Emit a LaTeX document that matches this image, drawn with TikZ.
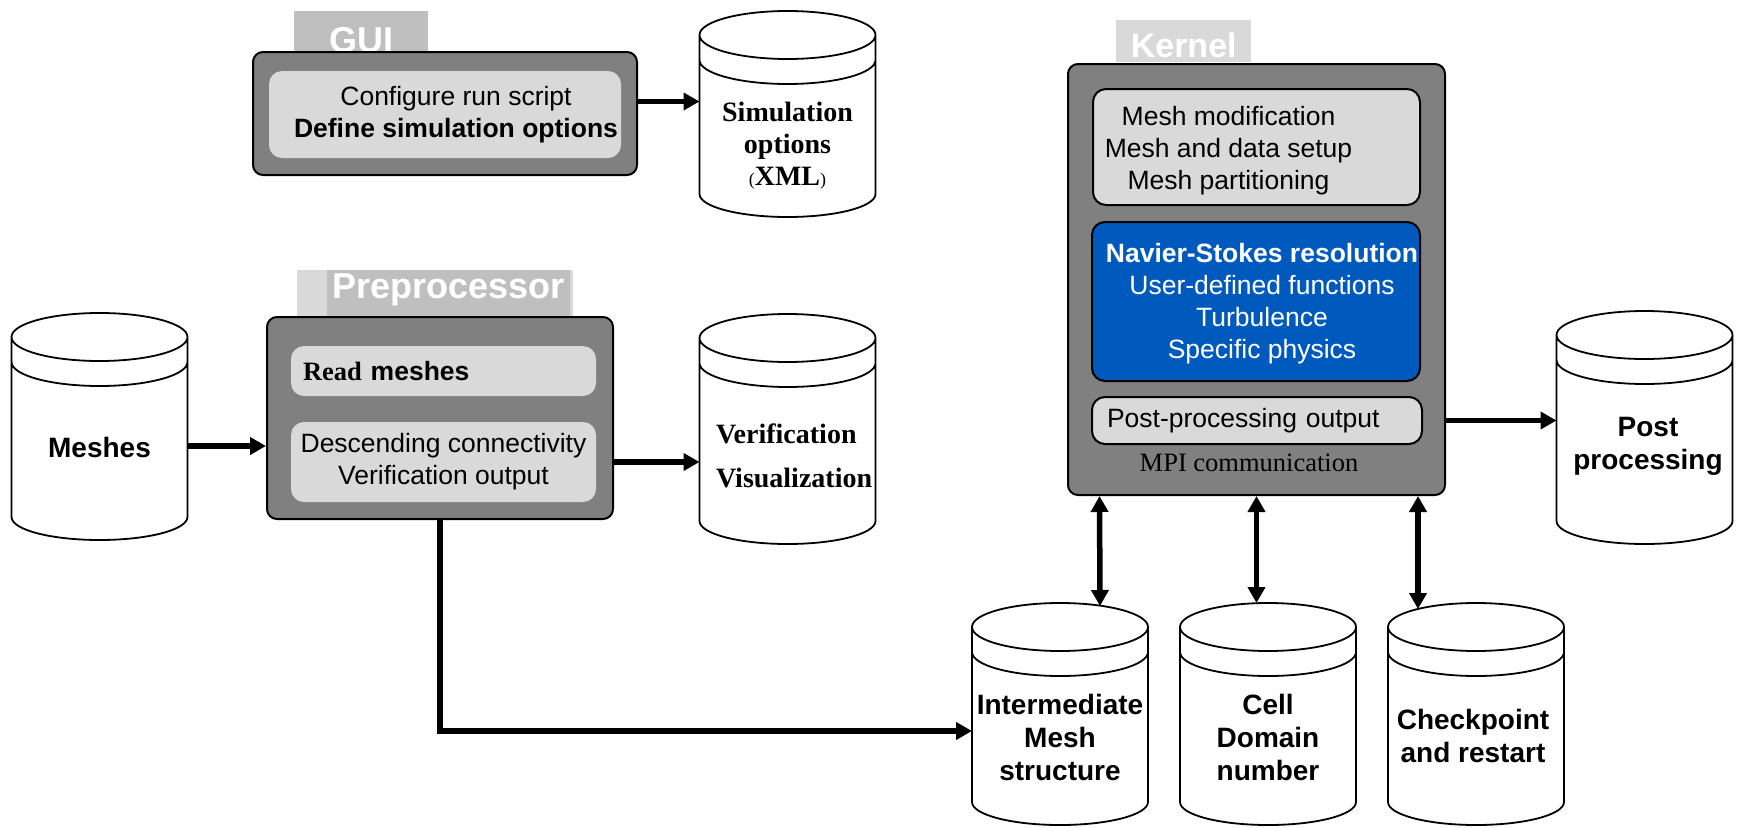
\documentclass[tikz,border=0pt]{standalone}
\usepackage{fontspec}
\setmainfont{Liberation Serif}
\setsansfont{Liberation Sans}
\usepackage{tikz}
\usetikzlibrary{calc,positioning,arrows.meta}

\definecolor{boxgray}{RGB}{128,128,128}
\definecolor{panegray}{RGB}{217,217,217}
\definecolor{tabgray}{RGB}{191,191,191}
\definecolor{nsblue}{RGB}{0,90,190}

\newcommand{\panefont}{\sffamily\fontsize{26.5}{32}\selectfont}
\newcommand{\drumfont}{\sffamily\bfseries\fontsize{28}{33}\selectfont}

\tikzset{
  module/.style={draw=black, line width=2pt, fill=boxgray, rounded corners=10pt, inner sep=0pt},
  pane/.style={fill=panegray, rounded corners=13pt, inner sep=0pt, font=\panefont, align=center},
  tab/.style={fill=tabgray, text=white, inner sep=0pt, font=\sffamily\bfseries\fontsize{36}{36}\selectfont},
  drumbody/.style={inner sep=0pt, outer sep=0pt, minimum width=176pt},
  drumline/.style={draw=black, line width=1.8pt},
  flow/.style={line width=5.5pt, -{Triangle[length=16pt,width=17pt]}},
  dflow/.style={line width=5.5pt, {Triangle[length=16pt,width=17pt]}-{Triangle[length=16pt,width=17pt]}},
}

% outline of a data cylinder round an empty node
\newcommand{\drum}[1]{%
  \draw[drumline] let \p1=(#1.north west), \p2=(#1.south east), \n1={(\x2-\x1)/2} in
    (\x1,\y1-24pt) arc[start angle=180, end angle=-180, x radius=\n1, y radius=24pt]
    (\x1,\y1-24pt) -- (\x1,\y2+23pt)
      arc[start angle=180, end angle=360, x radius=\n1, y radius=23pt] -- (\x2,\y1-24pt)
    (\x1,\y1-49pt) arc[start angle=180, end angle=360, x radius=\n1, y radius=24pt];
}

\begin{document}
\begin{tikzpicture}[x=1pt,y=1pt]
    \useasboundingbox (0,0) rectangle (1740,-827);

    % tabs
    \node[tab, minimum width=134, minimum height=42, text height=41pt, text depth=1pt, anchor=north west] (guitab) at (294,-11) {GUI};
    \node[tab, fill=panegray, minimum width=135, minimum height=42, text height=37pt, text depth=5pt, anchor=north west,
          font=\sffamily\bfseries\fontsize{34}{34}\selectfont] (kerntab) at (1116,-20) {Kernel};
    \node[tab, fill=panegray, minimum width=276, minimum height=47, anchor=north west] (pretab) at (297,-270) {};
    \node[tab, minimum width=243, minimum height=47, text height=28pt, text depth=19pt, anchor=north west] (pretitle) at (327,-270) {Preprocessor};

    % GUI
    \node[module, minimum width=384, minimum height=123] (gui) at (445,-113.5) {};
    \node[pane, minimum width=352, minimum height=87] (guiopts) at (445,-114.5) {};
    \node[font=\panefont, align=center] (guitext) at ($(guiopts.center)+(11,0)$) {Configure run script\\\textbf{Define simulation options}};

    % preprocessor
    \node[module, minimum width=346, minimum height=202] (preproc) at (440,-418) {};
    \node[pane, minimum width=305, minimum height=50, text width=281pt, inner xsep=12pt, align=left] (readm) at (443.5,-371)
        {\textrm{\bfseries Read} \textbf{meshes}};
    \node[pane, minimum width=305, minimum height=80] (conn) at (443.5,-462) {Descending connectivity\\Verification output};

    % kernel
    \node[module, minimum width=377, minimum height=431] (kernel) at (1256.5,-279.5) {};
    \node[pane, draw=black, line width=2pt, minimum width=327, minimum height=116] (setup) at (1256.5,-147) {};
    \node[font=\panefont, align=center] (setuptext) at ($(setup.center)+(-28,-4)$) {Mesh modification\\Mesh and data setup\\Mesh partitioning};
    \node[pane, draw=black, line width=2pt, fill=nsblue, minimum width=328, minimum height=159] (solver) at (1256,-301.5) {};
    \node[font=\panefont, align=center, text=white] (solvertext) at ($(solver.center)+(6,-2)$)
        {\textbf{Navier-Stokes resolution}\\User-defined functions\\Turbulence\\Specific physics};
    \node[pane, draw=black, line width=2pt, minimum width=330, minimum height=47, text width=300pt, inner xsep=15pt, align=left] (postout) at (1257,-420.5)
        {Post-processing output};
    \node[font=\rmfamily\fontsize{26.5}{32}\selectfont] (mpi) at (1249,-463) {MPI communication};

    % data
    \node[drumbody, minimum height=206] (simopts) at (787.5,-114) {};
    \node[drumbody, minimum height=227] (meshes) at (99.5,-426.5) {};
    \node[drumbody, minimum height=230] (verif) at (787.5,-429) {};
    \node[drumbody, minimum height=233] (post) at (1644.5,-427.5) {};
    \node[drumbody, minimum height=222] (inter) at (1060,-714) {};
    \node[drumbody, minimum height=222] (cell) at (1268,-714) {};
    \node[drumbody, minimum height=222] (check) at (1476,-714) {};
    \foreach \d in {simopts,meshes,verif,post,inter,cell,check} {\drum{\d}}

    \node[font=\rmfamily\bfseries\fontsize{28}{32}\selectfont, align=center] (simtext) at ($(simopts.center)+(0,-32)$)
        {Simulation\\options\\{\mdseries\fontsize{18}{32}\selectfont(}XML{\mdseries\fontsize{18}{32}\selectfont)}};
    \node[font=\drumfont] (meshtext) at ($(meshes.center)+(0,-20.5)$) {Meshes};
    \node[font=\rmfamily\bfseries\fontsize{28}{44}\selectfont, align=left, anchor=west] (veriftext) at ($(verif.west)+(13,-27)$)
        {Verification\\Visualization};
    \node[font=\drumfont, align=center] (posttext) at ($(post.center)+(3.5,-18.5)$) {Post\\processing};
    \node[font=\drumfont, align=center] (intertext) at ($(inter.center)+(0,-23)$) {Intermediate\\Mesh\\structure};
    \node[font=\drumfont, align=center] (celltext) at ($(cell.center)+(0,-23)$) {Cell\\Domain\\number};
    \node[font=\drumfont, align=center] (checktext) at ($(check.center)+(-3,-22)$) {Checkpoint\\and restart};

    % connectors
    \coordinate (guiout) at ($(gui.east)+(0,12)$);
    \coordinate (meshout) at ($(meshes.east)+(0,-19.5)$);
    \draw[flow] (guiout) -- (guiout -| simopts.west);
    \draw[flow] (meshout) -- (meshout -| preproc.west);
    \draw[flow] (conn.east -| preproc.east) -- (conn.east -| verif.west);
    \draw[flow] (postout.east -| kernel.east) -- (postout.east -| post.west);
    \draw[flow] (preproc.south) |- ($(inter.west)+(0,-17)$);
    \draw[dflow] ($(kernel.south)+(-157,0)$) -- ($(inter.north)+(40,-3)$);
    \draw[dflow] (kernel.south) -- ($(cell.north)+(-11.5,0)$);
    \draw[dflow] ($(kernel.south)+(161.5,0)$) -- ($(check.north)+(-58,-6)$);
\end{tikzpicture}
\end{document}
